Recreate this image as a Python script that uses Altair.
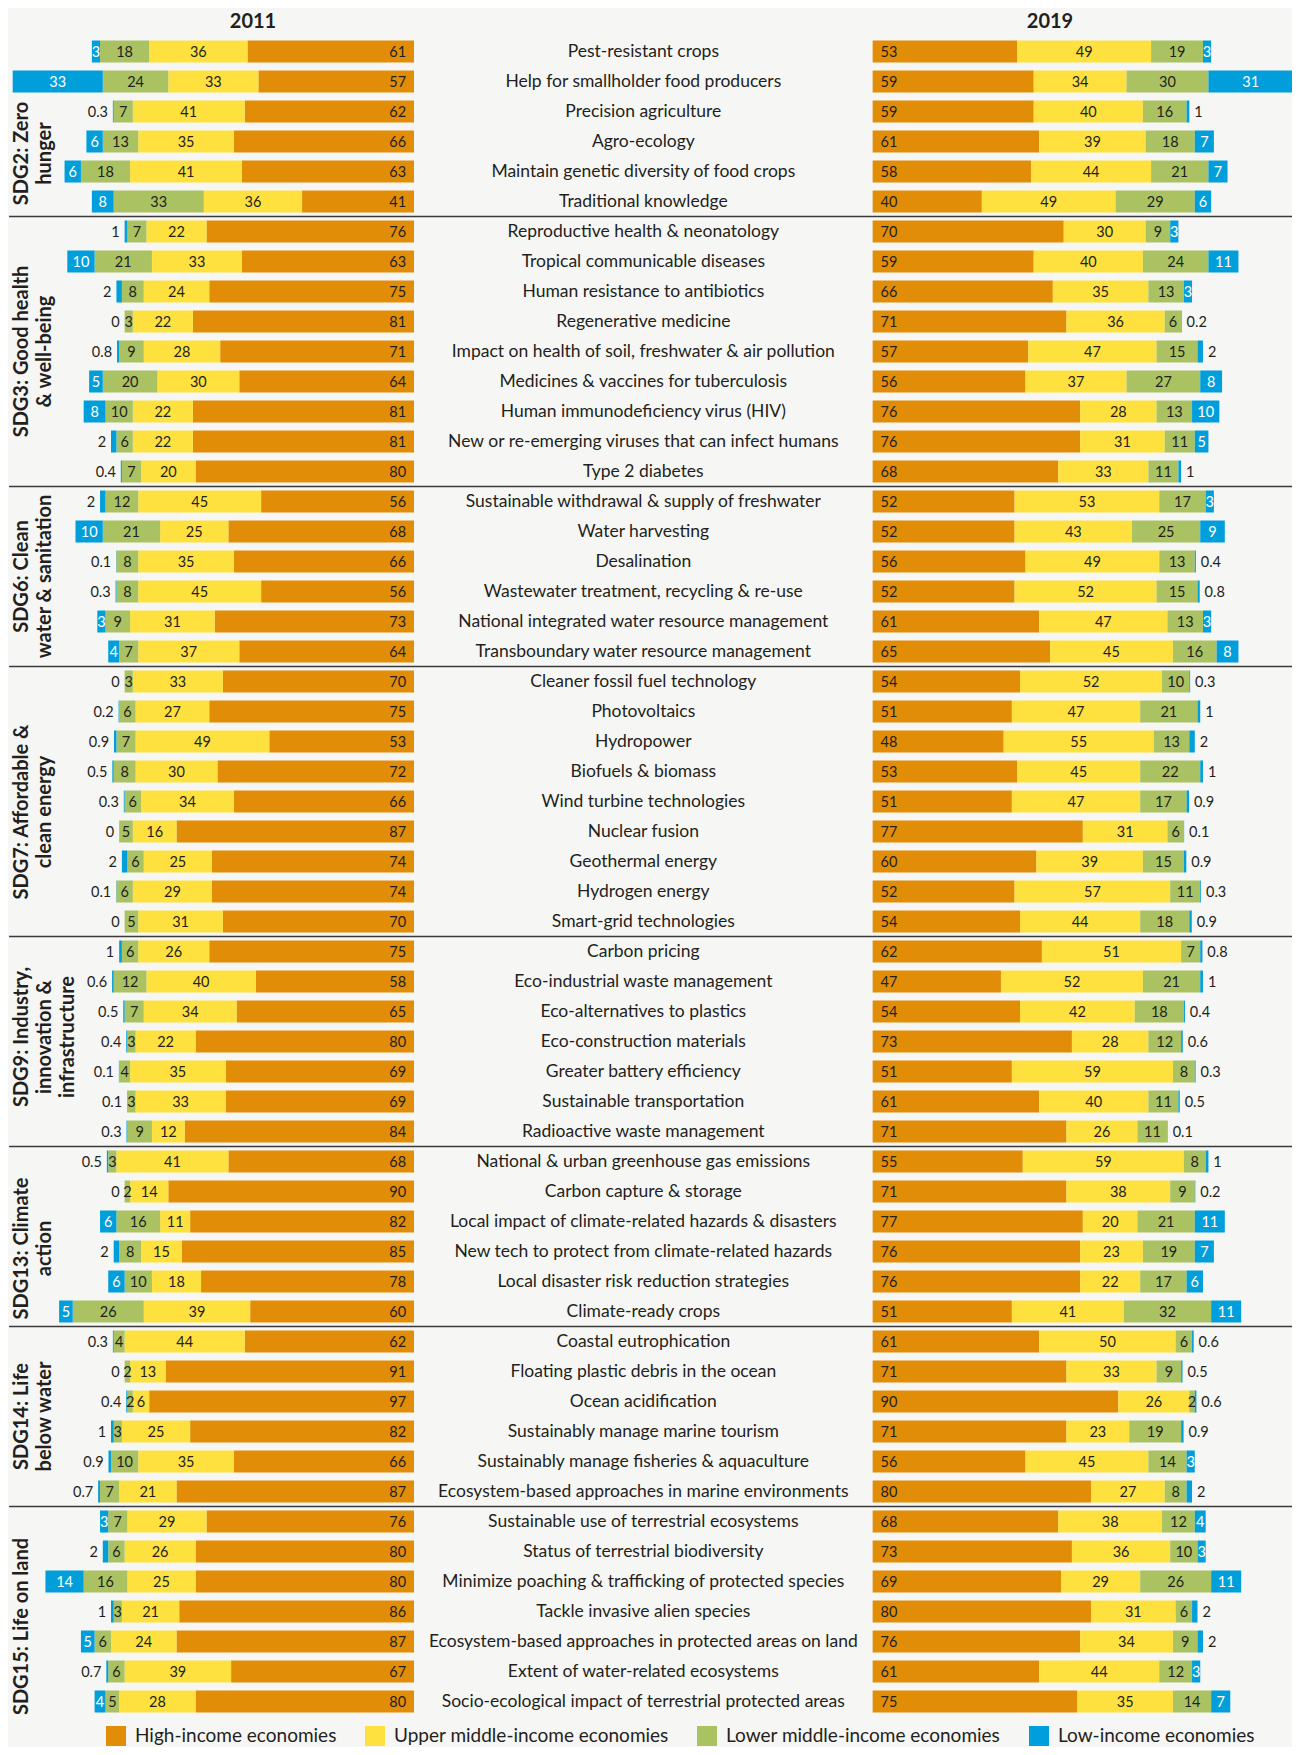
import altair as alt
import pandas as pd

# ---------------- data ----------------
topics = [
    "Pest-resistant crops", "Help for smallholder food producers", "Precision agriculture",
    "Agro-ecology", "Maintain genetic diversity of food crops", "Traditional knowledge",
    "Reproductive health & neonatology", "Tropical communicable diseases",
    "Human resistance to antibiotics", "Regenerative medicine",
    "Impact on health of soil, freshwater & air pollution", "Medicines & vaccines for tuberculosis",
    "Human immunodeficiency virus (HIV)", "New or re-emerging viruses that can infect humans",
    "Type 2 diabetes",
    "Sustainable withdrawal & supply of freshwater", "Water harvesting", "Desalination",
    "Wastewater treatment, recycling & re-use", "National integrated water resource management",
    "Transboundary water resource management",
    "Cleaner fossil fuel technology", "Photovoltaics", "Hydropower", "Biofuels & biomass",
    "Wind turbine technologies", "Nuclear fusion", "Geothermal energy", "Hydrogen energy",
    "Smart-grid technologies",
    "Carbon pricing", "Eco-industrial waste management", "Eco-alternatives to plastics",
    "Eco-construction materials", "Greater battery efficiency", "Sustainable transportation",
    "Radioactive waste management",
    "National & urban greenhouse gas emissions", "Carbon capture & storage",
    "Local impact of climate-related hazards & disasters",
    "New tech to protect from climate-related hazards", "Local disaster risk reduction strategies",
    "Climate-ready crops",
    "Coastal eutrophication", "Floating plastic debris in the ocean", "Ocean acidification",
    "Sustainably manage marine tourism", "Sustainably manage fisheries & aquaculture",
    "Ecosystem-based approaches in marine environments",
    "Sustainable use of terrestrial ecosystems", "Status of terrestrial biodiversity",
    "Minimize poaching & trafficking of protected species", "Tackle invasive alien species",
    "Ecosystem-based approaches in protected areas on land", "Extent of water-related ecosystems",
    "Socio-ecological impact of terrestrial protected areas",
]

group_labels = [
    ["SDG2: Zero", "hunger"],
    ["SDG3: Good health", "& well-being"],
    ["SDG6: Clean", "water & sanitation"],
    ["SDG7: Affordable &", "clean energy"],
    ["SDG9: Industry,", "innovation &", "infrastructure"],
    ["SDG13: Climate", "action"],
    ["SDG14: Life", "below water"],
    ["SDG15: Life on land"],
]
group_sizes = [6, 9, 6, 9, 7, 6, 6, 7]

high_2011 = [61, 57, 62, 66, 63, 41,
             76, 63, 75, 81, 71, 64, 81, 81, 80,
             56, 68, 66, 56, 73, 64,
             70, 75, 53, 72, 66, 87, 74, 74, 70,
             75, 58, 65, 80, 69, 69, 84,
             68, 90, 82, 85, 78, 60,
             62, 91, 97, 82, 66, 87,
             76, 80, 80, 86, 87, 67, 80]
upper_2011 = [36, 33, 41, 35, 41, 36,
              22, 33, 24, 22, 28, 30, 22, 22, 20,
              45, 25, 35, 45, 31, 37,
              33, 27, 49, 30, 34, 16, 25, 29, 31,
              26, 40, 34, 22, 35, 33, 12,
              41, 14, 11, 15, 18, 39,
              44, 13, 6, 25, 35, 21,
              29, 26, 25, 21, 24, 39, 28]
lower_2011 = [18, 24, 7, 13, 18, 33,
              7, 21, 8, 3, 9, 20, 10, 6, 7,
              12, 21, 8, 8, 9, 7,
              3, 6, 7, 8, 6, 5, 6, 6, 5,
              6, 12, 7, 3, 4, 3, 9,
              3, 2, 16, 8, 10, 26,
              4, 2, 2, 3, 10, 7,
              7, 6, 16, 3, 6, 6, 5]
low_2011 = [3, 33, 0.3, 6, 6, 8,
            1, 10, 2, 0, 0.8, 5, 8, 2, 0.4,
            2, 10, 0.1, 0.3, 3, 4,
            0, 0.2, 0.9, 0.5, 0.3, 0, 2, 0.1, 0,
            1, 0.6, 0.5, 0.4, 0.1, 0.1, 0.3,
            0.5, 0, 6, 2, 6, 5,
            0.3, 0, 0.4, 1, 0.9, 0.7,
            3, 2, 14, 1, 5, 0.7, 4]

high_2019 = [53, 59, 59, 61, 58, 40,
             70, 59, 66, 71, 57, 56, 76, 76, 68,
             52, 52, 56, 52, 61, 65,
             54, 51, 48, 53, 51, 77, 60, 52, 54,
             62, 47, 54, 73, 51, 61, 71,
             55, 71, 77, 76, 76, 51,
             61, 71, 90, 71, 56, 80,
             68, 73, 69, 80, 76, 61, 75]
upper_2019 = [49, 34, 40, 39, 44, 49,
              30, 40, 35, 36, 47, 37, 28, 31, 33,
              53, 43, 49, 52, 47, 45,
              52, 47, 55, 45, 47, 31, 39, 57, 44,
              51, 52, 42, 28, 59, 40, 26,
              59, 38, 20, 23, 22, 41,
              50, 33, 26, 23, 45, 27,
              38, 36, 29, 31, 34, 44, 35]
lower_2019 = [19, 30, 16, 18, 21, 29,
              9, 24, 13, 6, 15, 27, 13, 11, 11,
              17, 25, 13, 15, 13, 16,
              10, 21, 13, 22, 17, 6, 15, 11, 18,
              7, 21, 18, 12, 8, 11, 11,
              8, 9, 21, 19, 17, 32,
              6, 9, 2, 19, 14, 8,
              12, 10, 26, 6, 9, 12, 14]
low_2019 = [3, 31, 1, 7, 7, 6,
            3, 11, 3, 0.2, 2, 8, 10, 5, 1,
            3, 9, 0.4, 0.8, 3, 8,
            0.3, 1, 2, 1, 0.9, 0.1, 0.9, 0.3, 0.9,
            0.8, 1, 0.4, 0.6, 0.3, 0.5, 0.1,
            1, 0.2, 11, 7, 6, 11,
            0.6, 0.5, 0.6, 0.9, 3, 2,
            4, 3, 11, 2, 2, 3, 7]

categories = ["High-income economies", "Upper middle-income economies",
              "Lower middle-income economies", "Low-income economies"]
colors = ["#E18D07", "#FEE13F", "#AAC262", "#009FDC"]
years = ["2011", "2019"]

# ---------------- layout constants ----------------
W, H = 1284, 1739
PX = 2.73               # pixels per value unit
ROW = 30                # pixels per row
GAP = 168.0             # value units between the two panels
UMIN = (8 - 414) / PX
UMAX = UMIN + W / PX
D0 = -(51.5 - 8) / ROW
D1 = D0 + H / ROW
HALF = 11 / ROW
FONT = "Lato"
DARK = "#231F20"

# ---------------- build tables ----------------
segs, labs = [], []
series = {"2011": [high_2011, upper_2011, lower_2011, low_2011],
          "2019": [high_2019, upper_2019, lower_2019, low_2019]}
for i, t in enumerate(topics):
    for year, sign, base in [("2011", -1, 0.0), ("2019", 1, GAP)]:
        cum = 0.0
        for k, cat in enumerate(categories):
            v = series[year][k][i]
            a = base + sign * cum
            b = base + sign * (cum + v)
            segs.append(dict(row=i, y0=i - HALF, y1=i + HALF, x0=a, x1=b, cat=cat))
            if k == 0:
                pos, align = base + sign * 2.9, ("right" if sign < 0 else "left")
            elif k == 3 and v < 3:
                pos, align = base + sign * (cum + v + 1.8), ("right" if sign < 0 else "left")
            else:
                pos, align = (a + b) / 2, "center"
            white = (k == 3 and v >= 3)
            labs.append(dict(row=i, x=pos, text=f"{v:g}", align=align,
                             white=white))
            cum += v

seg_df = pd.DataFrame(segs)
lab_df = pd.DataFrame(labs)
topic_df = pd.DataFrame({"row": list(range(len(topics))), "topic": topics,
                         "x": [GAP / 2] * len(topics)})

starts = [sum(group_sizes[:g]) for g in range(len(group_sizes))]
sep_df = pd.DataFrame({"y": [s - 0.5 for s in starts[1:]],
                       "x0": [UMIN + 0.4] * (len(starts) - 1),
                       "x1": [UMAX] * (len(starts) - 1)})
label_shift = [0.9, 0.0, 0.0, 0.35, -0.15, 0.4, 0.0, 0.5]
grp_df = pd.DataFrame({
    "label": group_labels,
    "y": [starts[g] + (group_sizes[g] - 1) / 2 + label_shift[g] for g in range(len(group_sizes))],
    "x": [(12 - 414) / PX] * len(group_sizes),
})
title_df = pd.DataFrame({"label": years, "x": [(253 - 414) / PX, (1050 - 414) / PX],
                         "y": [(21.5 - 51.5) / ROW] * 2})

xs = alt.Scale(domain=[UMIN, UMAX], nice=False, zero=False)
ys = alt.Scale(domain=[D0, D1], nice=False, zero=False, reverse=True)

bars = alt.Chart(seg_df).mark_rect().encode(
    x=alt.X("x0:Q", scale=xs, axis=None),
    x2="x1:Q",
    y=alt.Y("y0:Q", scale=ys, axis=None),
    y2="y1:Q",
    color=alt.Color("cat:N", scale=alt.Scale(domain=categories, range=colors),
                    legend=alt.Legend(orient="none", legendX=98, legendY=1718,
                                      direction="horizontal", columns=4, title=None,
                                      symbolType="square", symbolSize=400,
                                      symbolStrokeWidth=0, symbolOpacity=1,
                                      labelFont=FONT, labelFontSize=19, labelColor=DARK,
                                      labelOffset=9, columnPadding=28, labelLimit=400)),
)


def num_layer(align, white):
    return alt.Chart(lab_df).transform_filter(
        (alt.datum.align == align) & (alt.datum.white == white)
    ).mark_text(align=align, baseline="middle", font=FONT, fontSize=14.5, dy=1,
                color=("#FFFFFF" if white else DARK)).encode(
        x=alt.X("x:Q", scale=xs, axis=None),
        y=alt.Y("row:Q", scale=ys, axis=None),
        text="text:N",
    )


nums = [num_layer("center", False), num_layer("center", True),
        num_layer("right", False), num_layer("left", False)]

topic_text = alt.Chart(topic_df).mark_text(
    align="center", baseline="middle", font=FONT, fontSize=17.5, color=DARK
).encode(x=alt.X("x:Q", scale=xs, axis=None), y=alt.Y("row:Q", scale=ys, axis=None),
         text="topic:N")

seps = alt.Chart(sep_df).mark_rule(color="#3a3a3a", strokeWidth=1.3).encode(
    x=alt.X("x0:Q", scale=xs, axis=None), x2="x1:Q",
    y=alt.Y("y:Q", scale=ys, axis=None))

groups = alt.Chart(grp_df).mark_text(
    angle=270, align="center", baseline="top", font=FONT, fontSize=20,
    fontWeight="bold", lineHeight=23, color=DARK
).encode(x=alt.X("x:Q", scale=xs, axis=None), y=alt.Y("y:Q", scale=ys, axis=None),
         text="label:N")

titles = alt.Chart(title_df).mark_text(
    align="center", baseline="middle", font=FONT, fontSize=20, fontWeight="bold", color=DARK
).encode(x=alt.X("x:Q", scale=xs, axis=None), y=alt.Y("y:Q", scale=ys, axis=None),
         text="label:N")

chart = alt.layer(bars, *nums, topic_text, seps, groups, titles).properties(
    width=W, height=H,
    autosize=alt.AutoSizeParams(type="none"),
    padding={"left": 0, "top": 0, "right": 0, "bottom": 0},
).configure(background="#F6F6F4").configure_view(stroke=None)

chart.save("out.html", embed_options={"renderer": "svg", "actions": False})
